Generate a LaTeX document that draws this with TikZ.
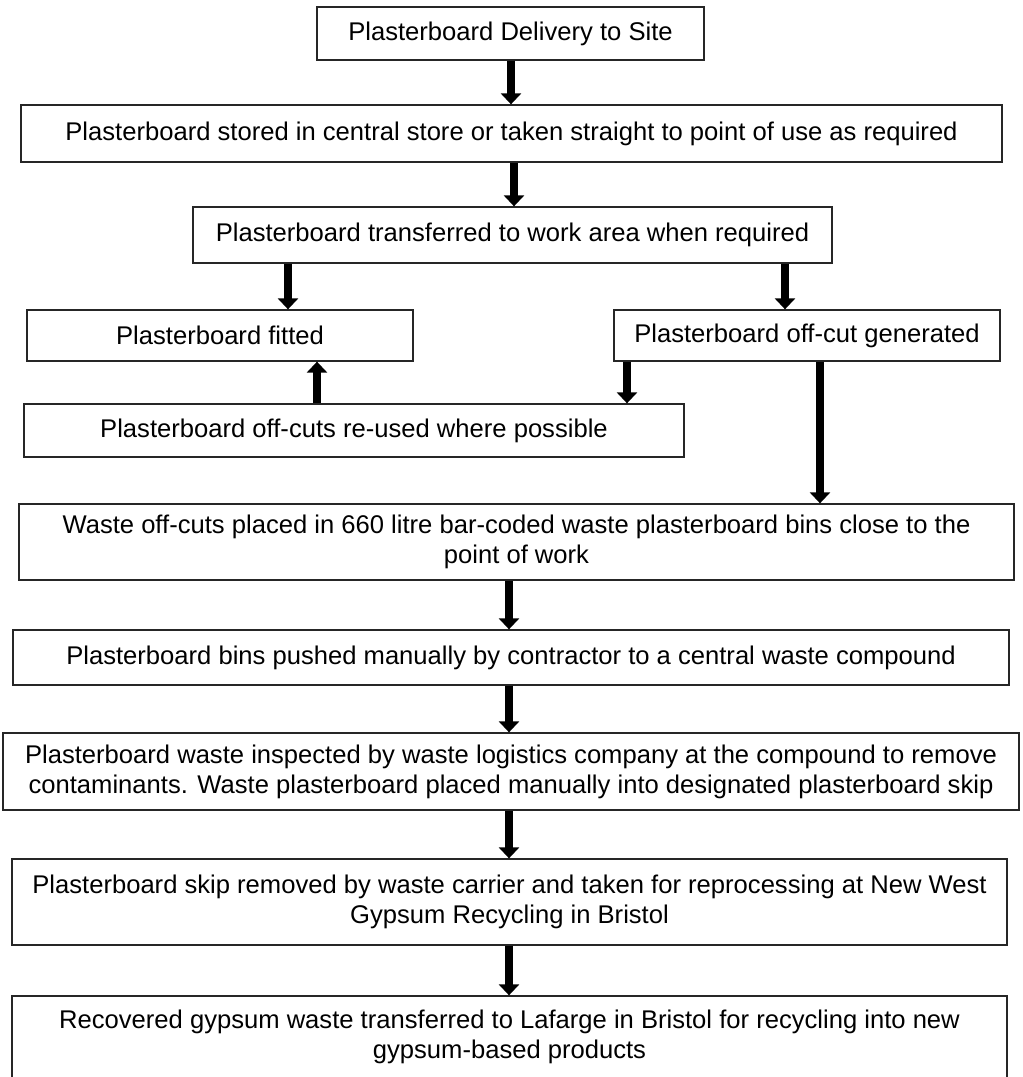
\documentclass[tikz,border=0pt]{standalone}
\usepackage{fontspec}
\setmainfont{Liberation Sans}
\usetikzlibrary{arrows.meta}

\begin{document}
\begin{tikzpicture}[x=1pt,y=-1pt,
  flow/.style={line width=8pt,-{Triangle[length=11pt,width=20pt]}},
  stage/.style={rectangle,draw=black!85,line width=1.3pt,fill=white,inner sep=0pt,
    align=center,font=\fontsize{25.6}{30}\selectfont}]

 \useasboundingbox (0,0) rectangle (1023,1077);

 \node[stage,minimum width=387pt,minimum height=53pt] (delivery) at (510.5,33.5) {Plasterboard Delivery to Site};
 \node[stage,minimum width=981pt,minimum height=57pt] (store) at (511.5,133.5) {Plasterboard stored in central store or taken straight to point of use as required};
 \node[stage,minimum width=639pt,minimum height=56pt] (transfer) at (512.5,235) {Plasterboard transferred to work area when required};
 \node[stage,minimum width=386pt,minimum height=51pt] (fitted) at (220,335.5) {Plasterboard fitted};
 \node[stage,minimum width=386pt,minimum height=51pt] (offcut) at (807,335.5) {Plasterboard off-cut generated};
 \node[stage,minimum width=660pt,minimum height=53pt] (reuse) at (354,430.5) {Plasterboard off-cuts re-used where possible};
 \node[stage,minimum width=995pt,minimum height=76pt] (bins) at (516.5,542) {Waste off-cuts placed in 660 litre bar-coded waste plasterboard bins close to the\\point of work};
 \node[stage,minimum width=996pt,minimum height=55pt] (pushed) at (511,657.5) {Plasterboard bins pushed manually by contractor to a central waste compound};
 \node[stage,minimum width=1016pt,minimum height=77pt] (inspect) at (511,771.5) {Plasterboard waste inspected by waste logistics company at the compound to remove\\contaminants. Waste plasterboard placed manually into designated plasterboard skip};
 \node[stage,minimum width=995pt,minimum height=86pt] (skip) at (509.5,902) {Plasterboard skip removed by waste carrier and taken for reprocessing at New West\\Gypsum Recycling in Bristol};
 \node[stage,minimum width=995pt,minimum height=82pt] (gypsum) at (509.5,1037) {Recovered gypsum waste transferred to Lafarge in Bristol for recycling into new\\gypsum-based products};

 % x positions of the arrows
 \coordinate (c1) at (511,0);
 \coordinate (c2) at (514,0);
 \coordinate (c3) at (288,0);
 \coordinate (c4) at (785,0);
 \coordinate (c5) at (627,0);
 \coordinate (c6) at (317,0);
 \coordinate (c7) at (820,0);
 \coordinate (c8) at (509,0);

 \path[flow]
    (delivery.south -| c1) edge (store.north -| c1)
    (store.south -| c2)    edge (transfer.north -| c2)
    (transfer.south -| c3) edge (fitted.north -| c3)
    (transfer.south -| c4) edge (offcut.north -| c4)
    (offcut.south -| c5)   edge (reuse.north -| c5)
    (reuse.north -| c6)    edge (fitted.south -| c6)
    (offcut.south -| c7)   edge (bins.north -| c7)
    (bins.south -| c8)     edge (pushed.north -| c8)
    (pushed.south -| c8)   edge (inspect.north -| c8)
    (inspect.south -| c8)  edge (skip.north -| c8)
    (skip.south -| c8)     edge (gypsum.north -| c8);

\end{tikzpicture}
\end{document}
